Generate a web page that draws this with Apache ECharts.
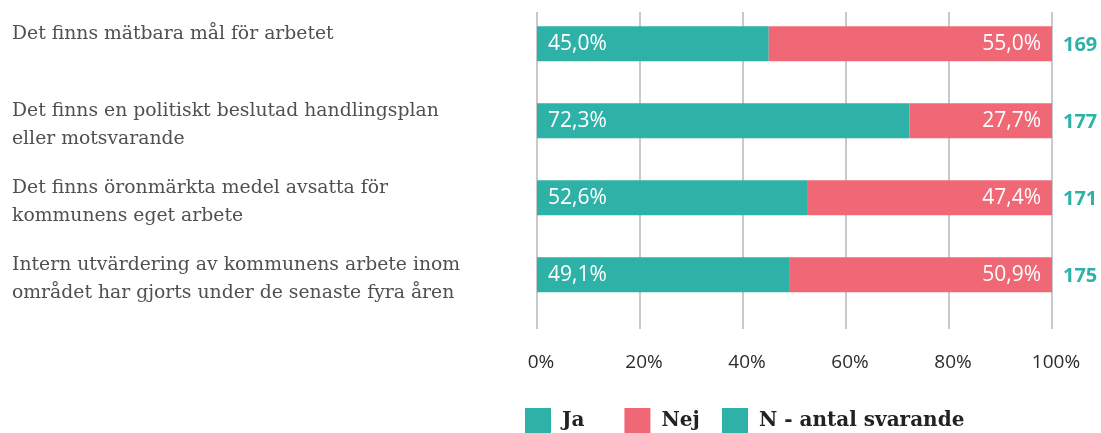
<!DOCTYPE html>
<html>
<head>
<meta charset="utf-8">
<script src="https://cdn.jsdelivr.net/npm/echarts@6/dist/echarts.min.js"></script>
<style>
  html, body { margin: 0; padding: 0; background: #fff; }
  #chart { width: 1101px; height: 433px; }
</style>
</head>
<body>
<div id="chart"></div>
<script>
// data
const categories = [
  'Det finns mätbara mål för arbetet',
  'Det finns en politiskt beslutad handlingsplan\neller motsvarande',
  'Det finns öronmärkta medel avsatta för\nkommunens eget arbete',
  'Intern utvärdering av kommunens arbete inom\nområdet har gjorts under de senaste fyra åren'
];
const jaValues = [45.0, 72.3, 52.6, 49.1];
const nejValues = [55.0, 27.7, 47.4, 50.9];
const nValues = [169, 177, 171, 175];

const TEAL = '#2eb2a7';
const PINK = '#f06775';

const pct = v => v.toFixed(1).replace('.', ',') + '%';

const chart = echarts.init(document.getElementById('chart'));

const barLabel = pos => ({
  show: true,
  position: pos,
  distance: 11,
  color: '#fff',
  fontFamily: 'Open Sans',
  fontSize: 21,
  formatter: p => pct(p.value)
});

const legendBase = {
  top: 403,
  icon: 'rect',
  itemWidth: 26,
  itemHeight: 25,
  itemGap: 40,
  textStyle: {
    fontFamily: 'DejaVu Serif',
    fontWeight: 'bold',
    fontSize: 20,
    color: '#222',
    padding: [0, 0, 0, 6]
  }
};

// category label: small spacer line on top, then always two text lines,
// so the first line lines up with the top of its bar
function catLabel(v) {
  const lines = v.split('\n');
  if (lines.length < 2) lines.push(' ');
  return '{s| }\n' + lines.map(l => '{t|' + l + '}').join('\n');
}

chart.setOption({
  animation: false,
  // grid 0 holds the bars, grid 1 only the gridlines + tick labels
  grid: [
    { left: 537, right: 49, top: 7, height: 308 },
    { left: 537, right: 49, top: 12, height: 317 }
  ],
  legend: [
    Object.assign({ left: 520, data: ['Ja', 'Nej'] }, legendBase),
    Object.assign({ left: 717, data: ['N - antal svarande'] }, legendBase)
  ],
  xAxis: [
    { gridIndex: 0, type: 'value', min: 0, max: 100, show: false },
    {
      gridIndex: 1, type: 'value', min: 0, max: 100, interval: 20,
      axisLine: { show: false },
      axisTick: { show: false },
      splitLine: { show: true, lineStyle: { color: '#c9c9cb', width: 2 } },
      axisLabel: {
        formatter: '{value}%',
        margin: 24,
        color: '#2b2b2b',
        fontFamily: 'Open Sans',
        fontSize: 19,
        padding: [0, 0, 0, 8]
      }
    }
  ],
  yAxis: [
    {
      gridIndex: 0, type: 'category', inverse: true, data: categories,
      axisLine: { show: false },
      axisTick: { show: false },
      axisLabel: {
        interval: 0,
        align: 'left',
        margin: 525,
        verticalAlign: 'middle',
        fontFamily: 'DejaVu Serif',
        fontSize: 18.8,
        color: '#505050',
        formatter: catLabel,
        rich: {
          s: { lineHeight: 5, fontSize: 5 },
          t: { lineHeight: 28, fontSize: 18.8, fontFamily: 'DejaVu Serif', color: '#505050' }
        }
      }
    },
    {
      gridIndex: 0, type: 'category', inverse: true, position: 'right',
      data: nValues.map(String),
      axisLine: { show: false },
      axisTick: { show: false },
      axisLabel: {
        align: 'left',
        margin: 11,
        color: TEAL,
        fontFamily: 'Open Sans',
        fontWeight: 'bold',
        fontSize: 20
      }
    },
    { gridIndex: 1, type: 'value', show: false }
  ],
  series: [
    {
      name: 'Ja', type: 'bar', stack: 'total', barWidth: 35,
      xAxisIndex: 0, yAxisIndex: 0,
      itemStyle: { color: TEAL },
      label: barLabel('insideLeft'),
      data: jaValues
    },
    {
      name: 'Nej', type: 'bar', stack: 'total', barWidth: 35,
      xAxisIndex: 0, yAxisIndex: 0,
      itemStyle: { color: PINK },
      label: barLabel('insideRight'),
      data: nejValues
    },
    {
      name: 'N - antal svarande', type: 'bar',
      xAxisIndex: 0, yAxisIndex: 0,
      itemStyle: { color: TEAL },
      data: []
    }
  ]
});
</script>
</body>
</html>
